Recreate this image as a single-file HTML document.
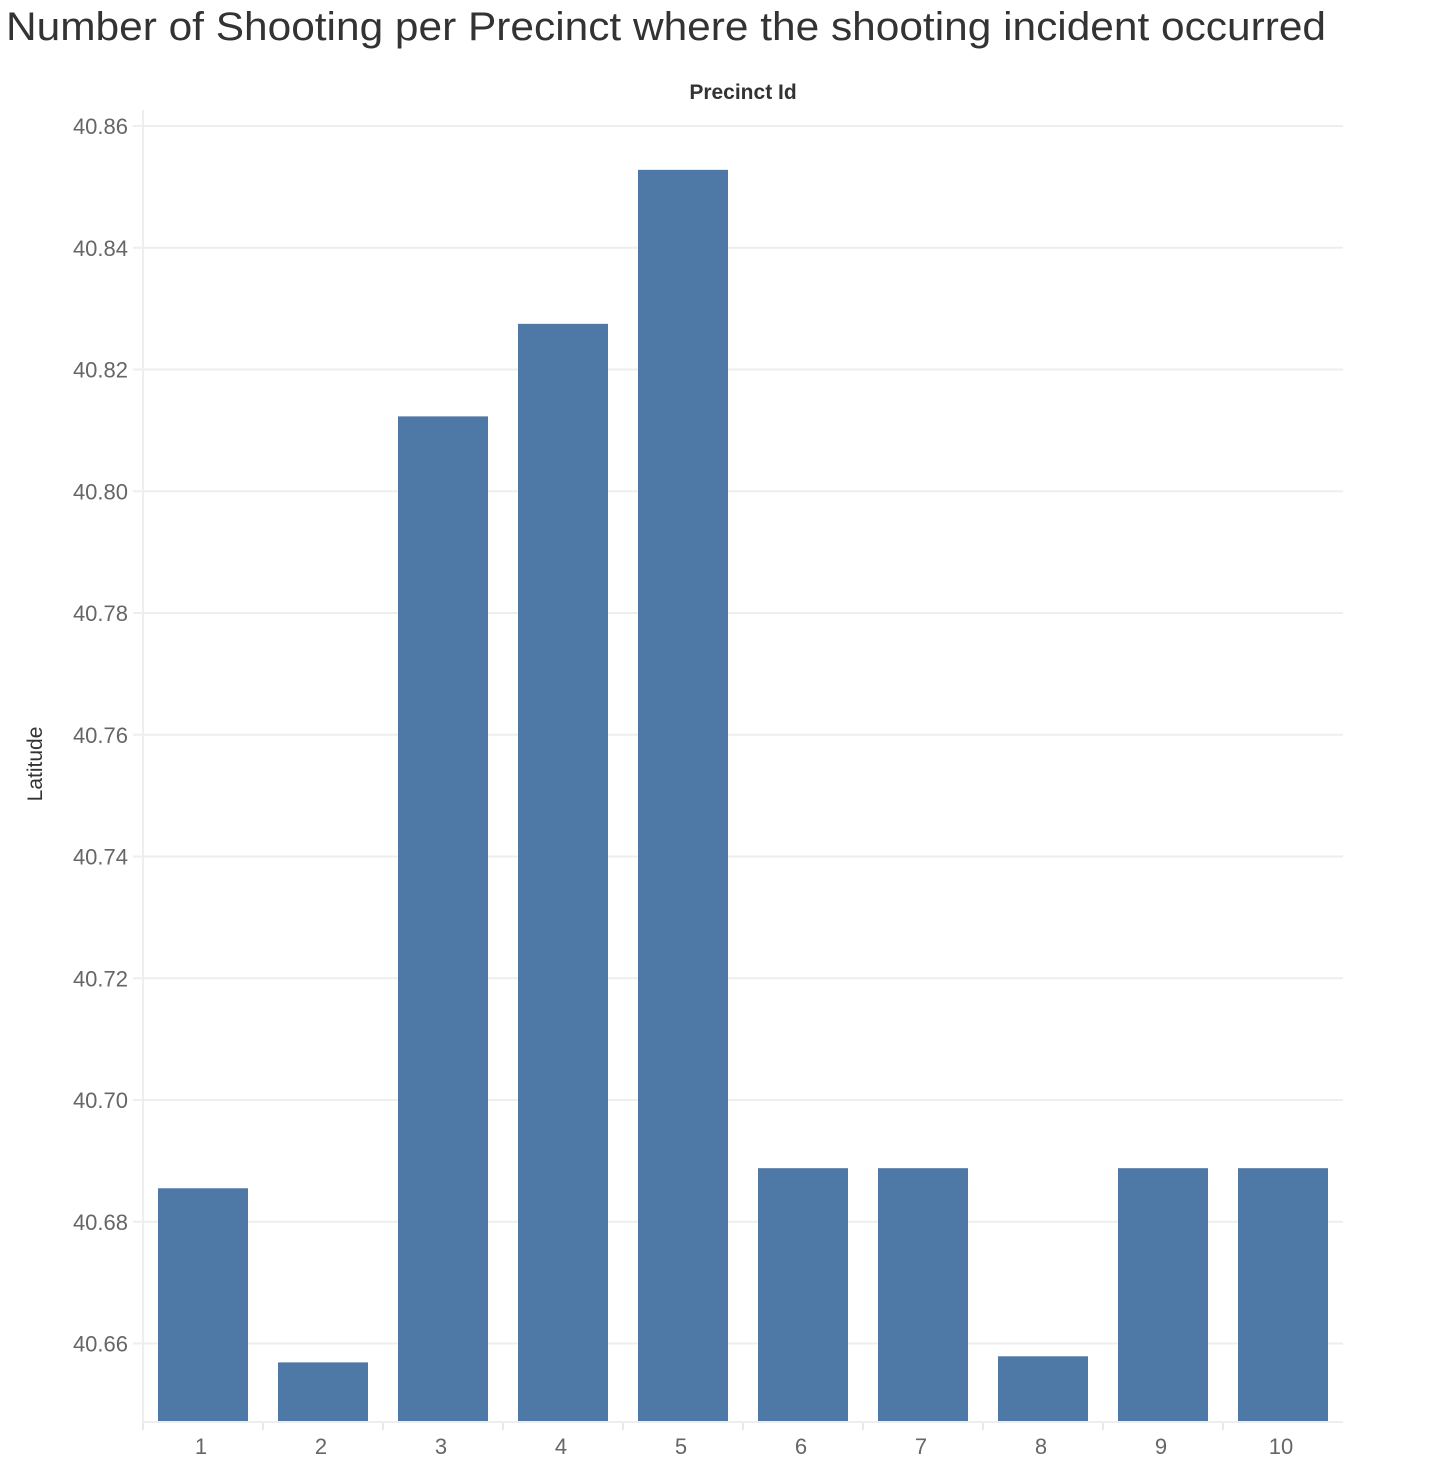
<!DOCTYPE html>
<html><head><meta charset="utf-8"><style>
html,body{margin:0;padding:0;background:#fff;}
svg{display:block;font-family:"Liberation Sans",sans-serif;}
</style></head><body>
<svg id="chart" width="1438" height="1472">
<text x="6" y="40" font-size="40" fill="#333" textLength="1320" lengthAdjust="spacingAndGlyphs">Number of Shooting per Precinct where the shooting incident occurred</text>
<text x="743" y="99" font-size="21" font-weight="bold" fill="#333" text-anchor="middle">Precinct Id</text>
<text transform="translate(42,764) rotate(-90)" font-size="21" fill="#333" text-anchor="middle">Latitude</text>
<g id="grid"></g><g id="bars"></g><g id="axes"></g>
</svg>
<script>
const categories = ["1","2","3","4","5","6","7","8","9","10"];
const latitudes = [40.6855, 40.6569, 40.8123, 40.8275, 40.8528, 40.6888, 40.6888, 40.6579, 40.6888, 40.6888];
const yTicks = [40.66, 40.68, 40.70, 40.72, 40.74, 40.76, 40.78, 40.80, 40.82, 40.84, 40.86];
const yTickLabels = ["40.66","40.68","40.70","40.72","40.74","40.76","40.78","40.80","40.82","40.84","40.86"];

const NS="http://www.w3.org/2000/svg";
const plotLeft=143, plotRight=1343, plotBottom=1421, plotTop=110;
function yScale(v){ return 1343.5 - (v-40.66)/0.02*121.75; }
const band=(plotRight-plotLeft)/categories.length;
function xCenter(i){ return plotLeft + band*(i+0.5); }
function mk(tag,attrs,parent){ const e=document.createElementNS(NS,tag); for(const k in attrs) e.setAttribute(k,attrs[k]); parent.appendChild(e); return e; }
const gridG=document.getElementById('grid'), barsG=document.getElementById('bars'), axesG=document.getElementById('axes');

yTicks.forEach((t,i)=>{
  const yy=yScale(t);
  const gl=mk('line',{x1:plotLeft-10,x2:plotRight,y1:yy,y2:yy,stroke:'#eeeeee','stroke-width':2},gridG);
  
  
  const tx=mk('text',{x:128,y:yy+8,'font-size':22,fill:'#666','text-anchor':'end'},axesG);
  tx.textContent=yTickLabels[i];
  
  
});
const va=mk('line',{x1:plotLeft,x2:plotLeft,y1:plotTop,y2:plotBottom+8,stroke:'#eeeeee','stroke-width':2},axesG);


const ha=mk('line',{x1:plotLeft,x2:plotRight,y1:plotBottom+1,y2:plotBottom+1,stroke:'#eeeeee','stroke-width':2},axesG);



categories.forEach((c,i)=>{
  const x0=plotLeft+band*i;
  const tk=mk('line',{x1:x0,x2:x0,y1:plotBottom+2,y2:plotBottom+9,stroke:'#e8e8e8','stroke-width':2},axesG);
  
  
  const yt=yScale(latitudes[i]);
  const r=mk('rect',{x:xCenter(i)-45,y:yt,width:90,height:plotBottom-yt,fill:'#4e79a7'},barsG);
  
  
  const lb=mk('text',{x:xCenter(i)-2,y:1454,'font-size':22,fill:'#666','text-anchor':'middle'},axesG);
  lb.textContent=c;
  
  
});
</script>
</body></html>
